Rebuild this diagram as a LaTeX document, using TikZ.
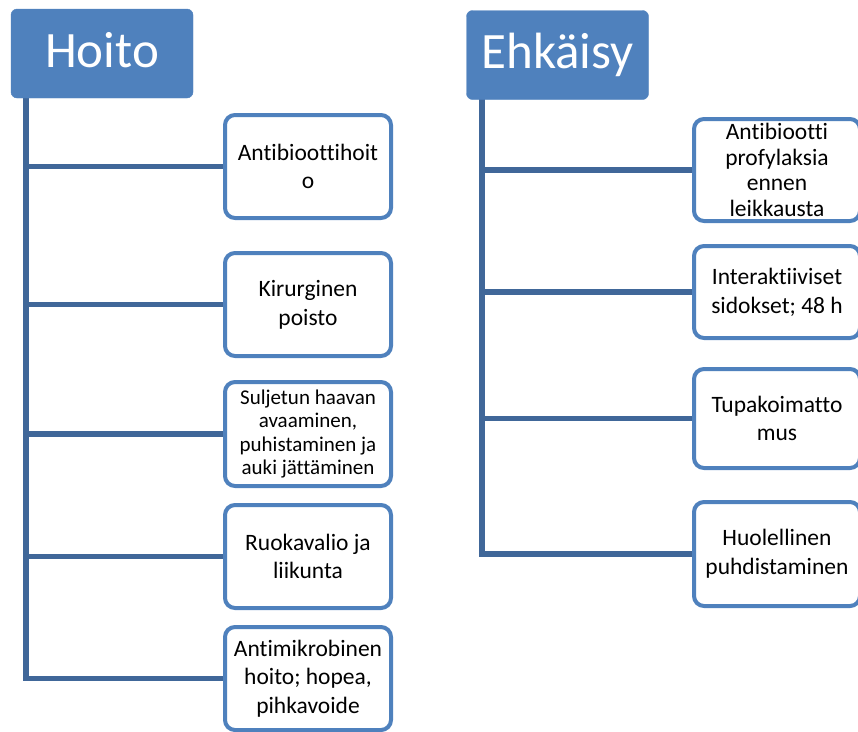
\documentclass[tikz,border=0pt]{standalone}
\usepackage{fontspec}
\setmainfont{Carlito}[Ligatures={NoCommon}]
\usepackage{xcolor}
\usepackage{tikz}
\usetikzlibrary{backgrounds}
\definecolor{boxblue}{RGB}{79,129,189}
\definecolor{lineblue}{RGB}{64,103,153}

\begin{document}
\begin{tikzpicture}[x=1pt, y=-1pt,
    header/.style={fill=boxblue, draw=boxblue, rounded corners=6pt, text=white,
        minimum width=182pt, minimum height=89pt, inner sep=0pt,
        text height=33pt, text depth=6pt, font=\fontsize{51}{60}\selectfont},
    item/.style={draw=boxblue, line width=4pt, fill=white, rounded corners=10pt,
        minimum width=166pt, inner sep=0pt, align=center,
        font=\fontsize{23.5}{28.7}\selectfont},
    link/.style={draw=lineblue, line width=5.5pt}]
    \useasboundingbox (0, 0) rectangle (858, 731);

    % otsikot
    \node [header] (hoito) at (102, 53.5) {Hoito};
    \node [header] (ehkaisy) at (557.5, 55) {Ehkäisy};

    % hoito
    \node [item, minimum height=103pt] (h1) at (308, 166.5) {Antibioottihoit\\o};
    \node [item, minimum height=103pt] (h2) at (308, 304.5) {Kirurginen\\poisto};
    \node [item, minimum height=104pt, font=\fontsize{21}{23.5}\selectfont] (h3) at (308, 434)
        {Suljetun haavan\\avaaminen,\\puhistaminen ja\\auki jättäminen};
    \node [item, minimum height=103pt] (h4) at (308, 556.5) {Ruokavalio ja\\liikunta};
    \node [item, minimum height=103pt] (h5) at (308, 678.5) {Antimikrobinen\\hoito; hopea,\\pihkavoide};

    % ehkaisy
    \node [item, minimum height=102pt, font=\fontsize{23.5}{25.5}\selectfont] (e1) at (777, 170)
        {Antibiootti\\profylaksia\\ennen\\leikkausta};
    \node [item, minimum height=92pt] (e2) at (777, 292) {Interaktiiviset\\sidokset; 48 h};
    \node [item, minimum height=99pt] (e3) at (777, 418.5) {Tupakoimatto\\mus};
    \node [item, minimum height=104pt] (e4) at (777, 554) {Huolellinen\\puhdistaminen};

    \coordinate (hroot) at (26, 98);
    \coordinate (eroot) at (482, 99);

    \begin{scope}[on background layer]
        \draw [link] (hroot) |- (h5.west);
        \foreach \n in {h1, h2, h3, h4}
            \draw [link] (hroot |- \n.west) -- (\n.west);
        \draw [link] (eroot) |- (e4.west);
        \foreach \n in {e1, e2, e3}
            \draw [link] (eroot |- \n.west) -- (\n.west);
    \end{scope}
\end{tikzpicture}
\end{document}
